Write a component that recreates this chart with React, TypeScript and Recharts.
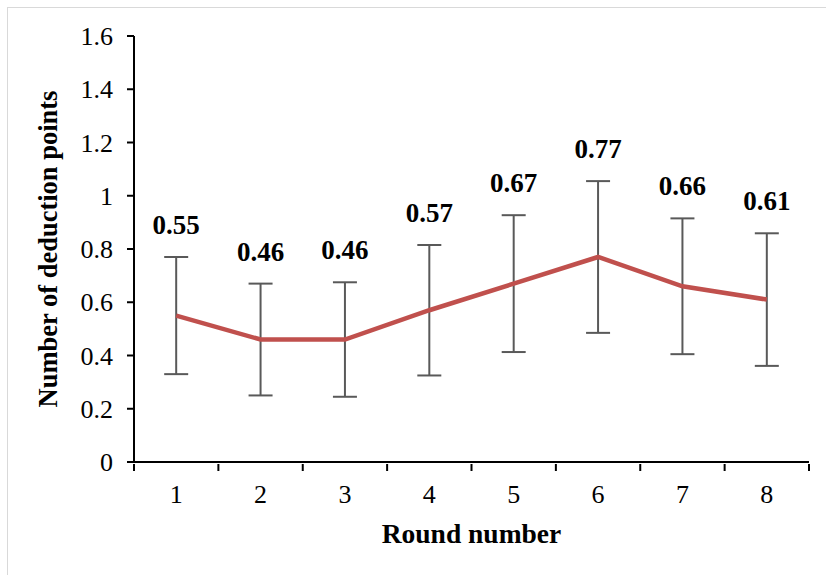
import { LineChart, Line, XAxis, YAxis, ErrorBar, LabelList, Label } from 'recharts';

const rounds = [1, 2, 3, 4, 5, 6, 7, 8];
const deductionMeans = [0.55, 0.46, 0.46, 0.57, 0.67, 0.77, 0.66, 0.61];
const deductionErrors = [0.22, 0.21, 0.215, 0.245, 0.257, 0.285, 0.255, 0.249];
const yTicks = [0, 0.2, 0.4, 0.6, 0.8, 1, 1.2, 1.4, 1.6];
// integer ticks carry the labels, half ticks draw the little marks between categories
const xTicks = [0.5, 1, 1.5, 2, 2.5, 3, 3.5, 4, 4.5, 5, 5.5, 6, 6.5, 7, 7.5, 8, 8.5];

const data = rounds.map((r, i) => ({
  round: r,
  mean: deductionMeans[i],
  err: deductionErrors[i],
  top: deductionMeans[i] + deductionErrors[i],
}));

const FONT = '"Liberation Serif", "Times New Roman", serif';

function RoundTick(props: any) {
  const { x, y, payload } = props;
  const v = payload.value;
  if (Number.isInteger(v)) {
    return (
      <text x={x} y={y + 39} textAnchor="middle" fontFamily={FONT} fontSize={26} fill="#000">
        {v}
      </text>
    );
  }
  return <line x1={x} y1={y} x2={x} y2={y + 7} stroke="#000" strokeWidth={2} />;
}

function MeanLabel(props: any) {
  const { x, y, index } = props;
  return (
    <text x={x} y={y - 23} textAnchor="middle" fontFamily={FONT} fontSize={27} fontWeight="bold" fill="#000">
      {deductionMeans[index].toFixed(2)}
    </text>
  );
}

function YTitle(props: any) {
  const vb = props.viewBox;
  const cx = vb.x + 51;
  const cy = vb.y + vb.height / 2;
  return (
    <text
      x={cx}
      y={cy}
      transform={`rotate(-90 ${cx} ${cy})`}
      textAnchor="middle"
      dominantBaseline="middle"
      fontFamily={FONT}
      fontSize={26.5}
      fontWeight="bold"
      fill="#000"
    >
      Number of deduction points
    </text>
  );
}

export default function App() {
  return (
    <div style={{ position: 'absolute', left: 0, top: 0, width: 826, height: 575, overflow: 'hidden', background: '#fff' }}>
      <div
        style={{
          position: 'absolute',
          left: 7,
          top: 7,
          width: 840,
          height: 600,
          border: '1px solid #d9d9d9',
        }}
      />
      <div style={{ position: 'absolute', left: 0, top: 0 }}>
        <LineChart width={826} height={575} data={data} margin={{ top: 36, right: 17, bottom: 0, left: 0 }}>
          <XAxis
            dataKey="round"
            type="number"
            domain={[0.5, 8.5]}
            ticks={xTicks}
            interval={0}
            height={113}
            tickLine={false}
            tickSize={0}
            tick={<RoundTick />}
            axisLine={{ stroke: '#000', strokeWidth: 2 }}
          >
            <Label
              value="Round number"
              position="insideBottom"
              offset={32}
              style={{ fontFamily: FONT, fontSize: 27.5, fontWeight: 'bold', fill: '#000' }}
            />
          </XAxis>
          <YAxis
            width={134}
            domain={[0, 1.6]}
            ticks={yTicks}
            interval={0}
            tickSize={7}
            tickMargin={14}
            tickFormatter={(v: number) => String(v)}
            tick={{ fontFamily: FONT, fontSize: 26, fill: '#000' }}
            tickLine={{ stroke: '#000', strokeWidth: 2 }}
            axisLine={{ stroke: '#000', strokeWidth: 2 }}
          >
            <Label content={<YTitle />} />
          </YAxis>
          <Line
            dataKey="mean"
            stroke="#C0504D"
            strokeWidth={4.5}
            dot={false}
            activeDot={false}
            isAnimationActive={false}
          >
            <ErrorBar dataKey="err" direction="y" width={12} stroke="#595959" strokeWidth={2} />
          </Line>
          <Line
            dataKey="top"
            stroke="none"
            dot={false}
            activeDot={false}
            isAnimationActive={false}
          >
            <LabelList dataKey="top" content={<MeanLabel />} />
          </Line>
        </LineChart>
      </div>
    </div>
  );
}
